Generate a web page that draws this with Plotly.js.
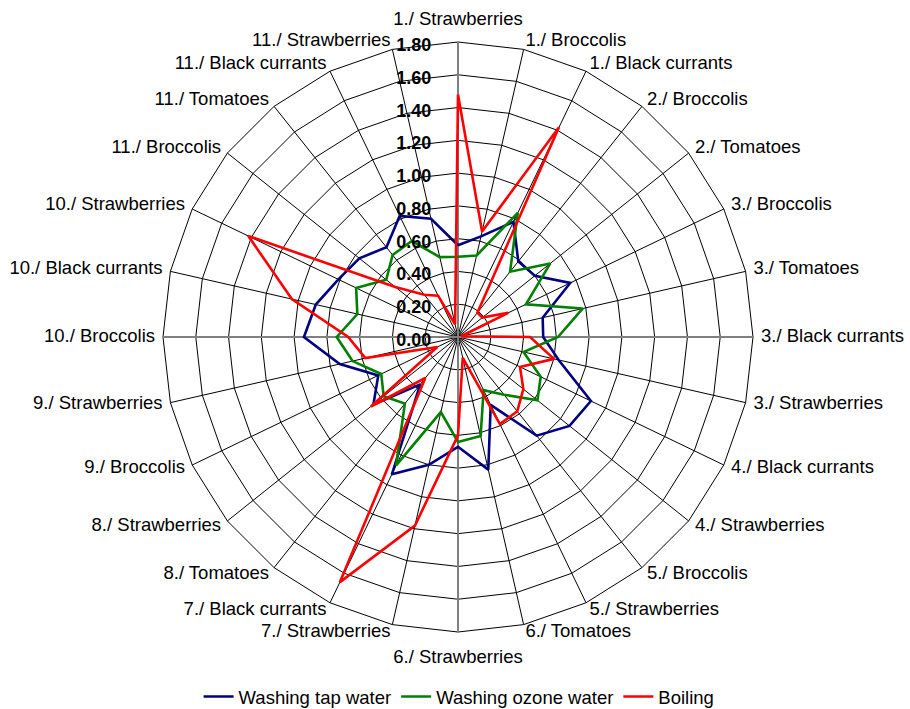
<!DOCTYPE html>
<html>
<head>
<meta charset="utf-8">
<script src="https://cdn.plot.ly/plotly-3.0.1.min.js"></script>
<style>html,body{margin:0;padding:0;background:#fff;}#chart{width:910px;height:709px;}</style>
</head>
<body>
<div id="chart"></div>
<script>
const categories = [
  "1./ Strawberries", "1./ Broccolis", "1./ Black currants", "2./ Broccolis", "2./ Tomatoes",
  "3./ Broccolis", "3./ Tomatoes", "3./ Black currants", "3./ Strawberries", "4./ Black currants",
  "4./ Strawberries", "5./ Broccolis", "5./ Strawberries", "6./ Tomatoes", "6./ Strawberries",
  "7./ Strawberries", "7./ Black currants", "8./ Tomatoes", "8./ Strawberries", "9./ Broccolis",
  "9./ Strawberries", "10./ Broccolis", "10./ Black currants", "10./ Strawberries", "11./ Broccolis",
  "11./ Tomatoes", "11./ Black currants", "11./ Strawberries"
];
const tapWater = [0.56, 0.63, 0.78, 0.59, 0.60, 0.76, 0.53, 0.52, 0.63, 0.90, 0.87, 0.77, 0.46, 0.83,
  0.67, 0.80, 0.93, 0.37, 0.66, 0.54, 0.74, 0.94, 0.89, 0.81, 0.77, 0.70, 0.82, 0.74];
const ozoneWater = [0.49, 0.51, 0.84, 0.51, 0.72, 0.46, 0.78, 0.61, 0.41, 0.56, 0.62, 0.45, 0.36, 0.62,
  0.64, 0.47, 0.87, 0.52, 0.58, 0.52, 0.66, 0.74, 0.63, 0.69, 0.56, 0.64, 0.65, 0.50];
const boiling = [1.48, 0.66, 1.42, 0.19, 0.19, 0.34, 0.02, 0.44, 0.60, 0.42, 0.51, 0.58, 0.59, 0.13,
  0.60, 1.18, 1.66, 0.32, 0.68, 0.14, 0.58, 0.67, 1.04, 1.42, 0.49, 0.33, 0.28, 0.08];
const radialTicks = [0, 0.2, 0.4, 0.6, 0.8, 1.0, 1.2, 1.4, 1.6, 1.8];
const seriesNames = ["Washing tap water", "Washing ozone water", "Boiling"];
const seriesColors = ["#000080", "#008000", "#FF0000"];
const radialMax = 1.8;

const FONT = "Liberation Sans, Arial, Helvetica, sans-serif";

function closed(arr) { return arr.concat([arr[0]]); }

const W = 910, H = 709;
const cx = 458, cy = 337, R = 295;   // centre and pixel radius of the 1.80 ring
const EXT = 32;                      // extra room outside the ring for category labels
const radialExt = radialMax * (R + EXT) / R;

const traces = [];

// spokes from the centre to the outer ring
const spokeR = [], spokeT = [];
categories.forEach(c => { spokeR.push(0, radialMax, null); spokeT.push(c, c, null); });
traces.push({
  type: "scatterpolar", r: spokeR, theta: spokeT, mode: "lines",
  line: {color: "#000", width: 1}, connectgaps: false,
  showlegend: false, hoverinfo: "skip"
});

// grey main axis lines (vertical and horizontal diameters)
[[0, 14], [7, 21]].forEach(p => traces.push({
  type: "scatterpolar",
  r: [radialMax, 0, radialMax],
  theta: [categories[p[0]], categories[p[0]], categories[p[1]]],
  mode: "lines",
  line: {color: "#808080", width: 2},
  showlegend: false,
  hoverinfo: "skip"
}));

[tapWater, ozoneWater, boiling].forEach((vals, i) => {
  traces.push({
    type: "scatterpolar",
    r: closed(vals),
    theta: closed(categories),
    mode: "lines",
    name: seriesNames[i],
    line: {color: seriesColors[i], width: 2.6}
  });
});

// category labels just outside the outer ring, anchored like the original
const N = categories.length;
const sideR = radialMax * (R + 8) / R;
const topR = radialMax * (R + 22) / R;
const bottomR = radialMax * (R + 26) / R;
const labelR = [], labelPos = [];
categories.forEach((c, i) => {
  const a = i * 2 * Math.PI / N;
  const s = Math.sin(a);
  if (Math.abs(s) < 0.05) { labelR.push(Math.cos(a) > 0 ? topR : bottomR); labelPos.push("middle center"); }
  else { labelR.push(sideR); labelPos.push(s > 0 ? "middle right" : "middle left"); }
});
traces.push({
  type: "scatterpolar",
  r: labelR,
  theta: categories,
  mode: "text",
  text: categories,
  textposition: labelPos,
  textfont: {family: FONT, size: 18.5, color: "#000"},
  cliponaxis: false,
  showlegend: false,
  hoverinfo: "skip"
});

const layout = {
  width: W, height: H,
  margin: {l: 0, r: 0, t: 0, b: 0, autoexpand: false},
  paper_bgcolor: "#fff",
  font: {family: FONT, size: 18, color: "#000"},
  showlegend: true,
  legend: {
    orientation: "h", x: 0.5045, xanchor: "center", y: 0.017, yanchor: "middle",
    font: {family: FONT, size: 18.5, color: "#000"},
    itemwidth: 30
  },
  polar: {
    domain: {
      x: [(cx - R - EXT) / W, (cx + R + EXT) / W],
      y: [(H - cy - R - EXT) / H, (H - cy + R + EXT) / H]
    },
    bgcolor: "rgba(0,0,0,0)",
    gridshape: "linear",
    angularaxis: {
      type: "category",
      categoryarray: categories,
      direction: "clockwise",
      rotation: 90,
      showline: false,
      showgrid: false,
      ticks: "",
      showticklabels: false
    },
    radialaxis: {
      range: [0, radialExt],
      autorange: false,
      tickmode: "array",
      tickvals: radialTicks,
      tickformat: ".2f",
      angle: 90,
      side: "counterclockwise",
      showline: false,
      showgrid: true, gridcolor: "#000", gridwidth: 1,
      ticks: "outside", ticklen: 10, tickcolor: "rgba(0,0,0,0)",
      tickfont: {family: FONT, size: 18, color: "#000", weight: 700}
    }
  }
};

Plotly.newPlot("chart", traces, layout, {displayModeBar: false, staticPlot: true});
</script>
</body>
</html>
